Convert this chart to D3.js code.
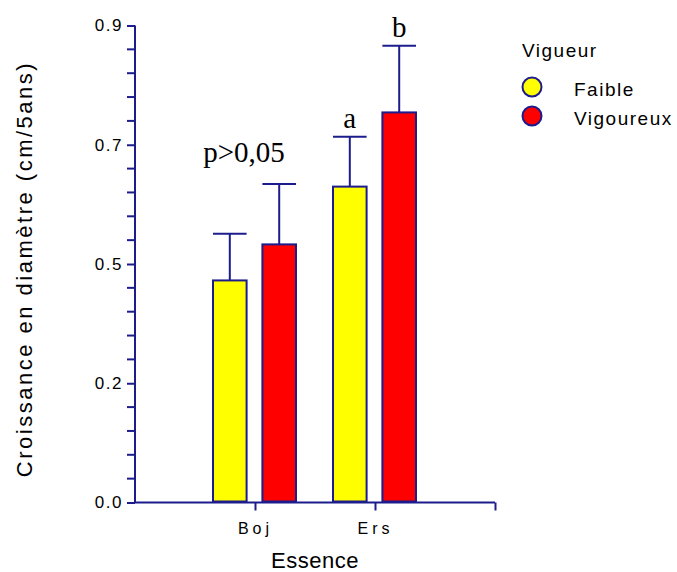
<!DOCTYPE html>
<html>
<head>
<meta charset="utf-8">
<script src="https://cdn.jsdelivr.net/npm/d3@7"></script>
<style>
    body { margin: 0; background: #fff; }
</style>
</head>
<body>
<svg id="chart"></svg>
<script>
// data
const essences = ["Boj", "Ers"];
const vigueurs = ["Faible", "Vigoureux"];
const colors = ["#ffff00", "#ff0000"];
const faibleMeans = [0.419, 0.596];
const faibleErrors = [0.088, 0.094];
const vigoureuxMeans = [0.487, 0.736];
const vigoureuxErrors = [0.114, 0.126];
const annotations = [
    { essence: "Boj", vigueur: null, text: "p>0,05" },
    { essence: "Ers", vigueur: "Faible", text: "a" },
    { essence: "Ers", vigueur: "Vigoureux", text: "b" }
];
const yTicks = [0, 0.225, 0.45, 0.675, 0.9];

const width = 677;
const height = 572;
const navy = "#1c1c8c";
const sans = 'Arial, "Liberation Sans", sans-serif';
const serif = '"Liberation Serif", "Times New Roman", serif';

const svg = d3.select('#chart')
    .attr('width', width)
    .attr('height', height)
    .style('font-family', sans);

// build rows from the arrays
let rows = [];
essences.forEach((e, i) => {
    rows.push({ essence: e, vigueur: "Faible", mean: faibleMeans[i], err: faibleErrors[i], color: colors[0] });
    rows.push({ essence: e, vigueur: "Vigoureux", mean: vigoureuxMeans[i], err: vigoureuxErrors[i], color: colors[1] });
});

const x = d3.scalePoint()
    .domain(["start"].concat(essences).concat(["end"]))
    .range([135, 495]);

const inner = d3.scaleBand()
    .domain(vigueurs)
    .range([-42, 41])
    .paddingInner(0.32)
    .paddingOuter(0);

const y = d3.scaleLinear()
    .domain([0, 0.9])
    .range([502.5, 25.5]);

//y axis
const yAxis = d3.axisLeft(y)
    .tickValues(yTicks)
    .tickFormat(d3.format('.1f'))
    .tickSize(8)
    .tickPadding(4);
const yAxisG = svg.append('g')
    .attr('transform', `translate(${x.range()[0]}, 0)`)
    .call(yAxis)
    .attr('font-family', sans);
yAxisG.select('.domain').attr('stroke', navy).attr('stroke-width', 2).attr('d', `M0,${y(0)}V${y(0.9)}`);
yAxisG.selectAll('.tick line').attr('stroke', navy).attr('stroke-width', 2);
yAxisG.selectAll('.tick text')
    .attr('font-size', 17)
    .attr('letter-spacing', 1.5)
    .attr('fill', '#000');

// minor ticks
const minor = d3.range(0, 0.9001, 0.045).filter(v => !yTicks.some(t => Math.abs(t - v) < 1e-6));
svg.append('g').selectAll('line')
    .data(minor)
    .enter()
    .append('line')
    .attr('x1', x.range()[0] - 8)
    .attr('x2', x.range()[0])
    .attr('y1', d => y(d))
    .attr('y2', d => y(d))
    .attr('stroke', navy)
    .attr('stroke-width', 2);

//x axis
const xAxis = d3.axisBottom(x)
    .tickValues(essences.concat(["end"]))
    .tickFormat(d => d === "end" ? "" : d)
    .tickSize(8)
    .tickPadding(12);
const xAxisG = svg.append('g')
    .attr('transform', `translate(0, ${y(0)})`)
    .call(xAxis)
    .attr('font-family', sans);
xAxisG.select('.domain').attr('stroke', navy).attr('stroke-width', 2).attr('d', `M${x.range()[0] - 1},0H${x.range()[1]}`);
xAxisG.selectAll('.tick line').attr('stroke', navy).attr('stroke-width', 2);
xAxisG.selectAll('.tick text')
    .attr('font-size', 16)
    .attr('letter-spacing', 4)
    .attr('fill', '#000');

// error bars
const barX = d => x(d.essence) + inner(d.vigueur);
const barCx = d => barX(d) + inner.bandwidth() / 2;

const err = svg.append('g');
err.selectAll('line.stem')
    .data(rows)
    .enter()
    .append('line')
    .attr('class', 'stem')
    .attr('x1', barCx).attr('x2', barCx)
    .attr('y1', d => y(d.mean))
    .attr('y2', d => y(d.mean + d.err))
    .attr('stroke', navy)
    .attr('stroke-width', 2);
err.selectAll('line.cap')
    .data(rows)
    .enter()
    .append('line')
    .attr('class', 'cap')
    .attr('x1', barX)
    .attr('x2', d => barX(d) + inner.bandwidth())
    .attr('y1', d => y(d.mean + d.err))
    .attr('y2', d => y(d.mean + d.err))
    .attr('stroke', navy)
    .attr('stroke-width', 2);

// bars
svg.append('g').selectAll('rect')
    .data(rows)
    .enter()
    .append('rect')
    .attr('x', barX)
    .attr('y', d => y(d.mean))
    .attr('width', inner.bandwidth())
    .attr('height', d => y(0) - 1 - y(d.mean))
    .attr('fill', d => d.color)
    .attr('stroke', navy)
    .attr('stroke-width', 2);

// annotations
svg.append('g').selectAll('text')
    .data(annotations)
    .enter()
    .append('text')
    .attr('x', d => d.vigueur ? barCx(rows.find(r => r.essence === d.essence && r.vigueur === d.vigueur)) : x(d.essence) - 11)
    .attr('y', d => {
        let group = rows.filter(r => r.essence === d.essence && (!d.vigueur || r.vigueur === d.vigueur));
        let top = d3.max(group, r => r.mean + r.err);
        return y(top) - (d.vigueur ? 9 : 22);
    })
    .attr('text-anchor', 'middle')
    .style('font-family', serif)
    .attr('font-size', 29)
    .attr('fill', '#000')
    .text(d => d.text);

// axis titles
svg.append('text')
    .attr('x', (x.range()[0] + x.range()[1]) / 2)
    .attr('y', 568)
    .attr('text-anchor', 'middle')
    .attr('font-size', 22)
    .attr('letter-spacing', 0.5)
    .text('Essence');

svg.append('text')
    .attr('transform', `translate(32, 269) rotate(-90)`)
    .attr('text-anchor', 'middle')
    .attr('font-size', 22)
    .attr('letter-spacing', 2.5)
    .text('Croissance en diamètre (cm/5ans)');

// legend
const legend = svg.append('g');
legend.append('text')
    .attr('x', 522)
    .attr('y', 57)
    .attr('font-size', 19)
    .attr('letter-spacing', 1.5)
    .text('Vigueur');
const items = legend.selectAll('g.item')
    .data(vigueurs)
    .enter()
    .append('g')
    .attr('class', 'item')
    .attr('transform', (d, i) => `translate(532, ${87 + i * 29})`);
items.append('circle')
    .attr('r', 9.5)
    .attr('fill', (d, i) => colors[i])
    .attr('stroke', navy)
    .attr('stroke-width', 2);
items.append('text')
    .attr('x', 42)
    .attr('y', 9)
    .attr('font-size', 19)
    .attr('letter-spacing', 1.5)
    .text(d => d);
</script>
</body>
</html>
